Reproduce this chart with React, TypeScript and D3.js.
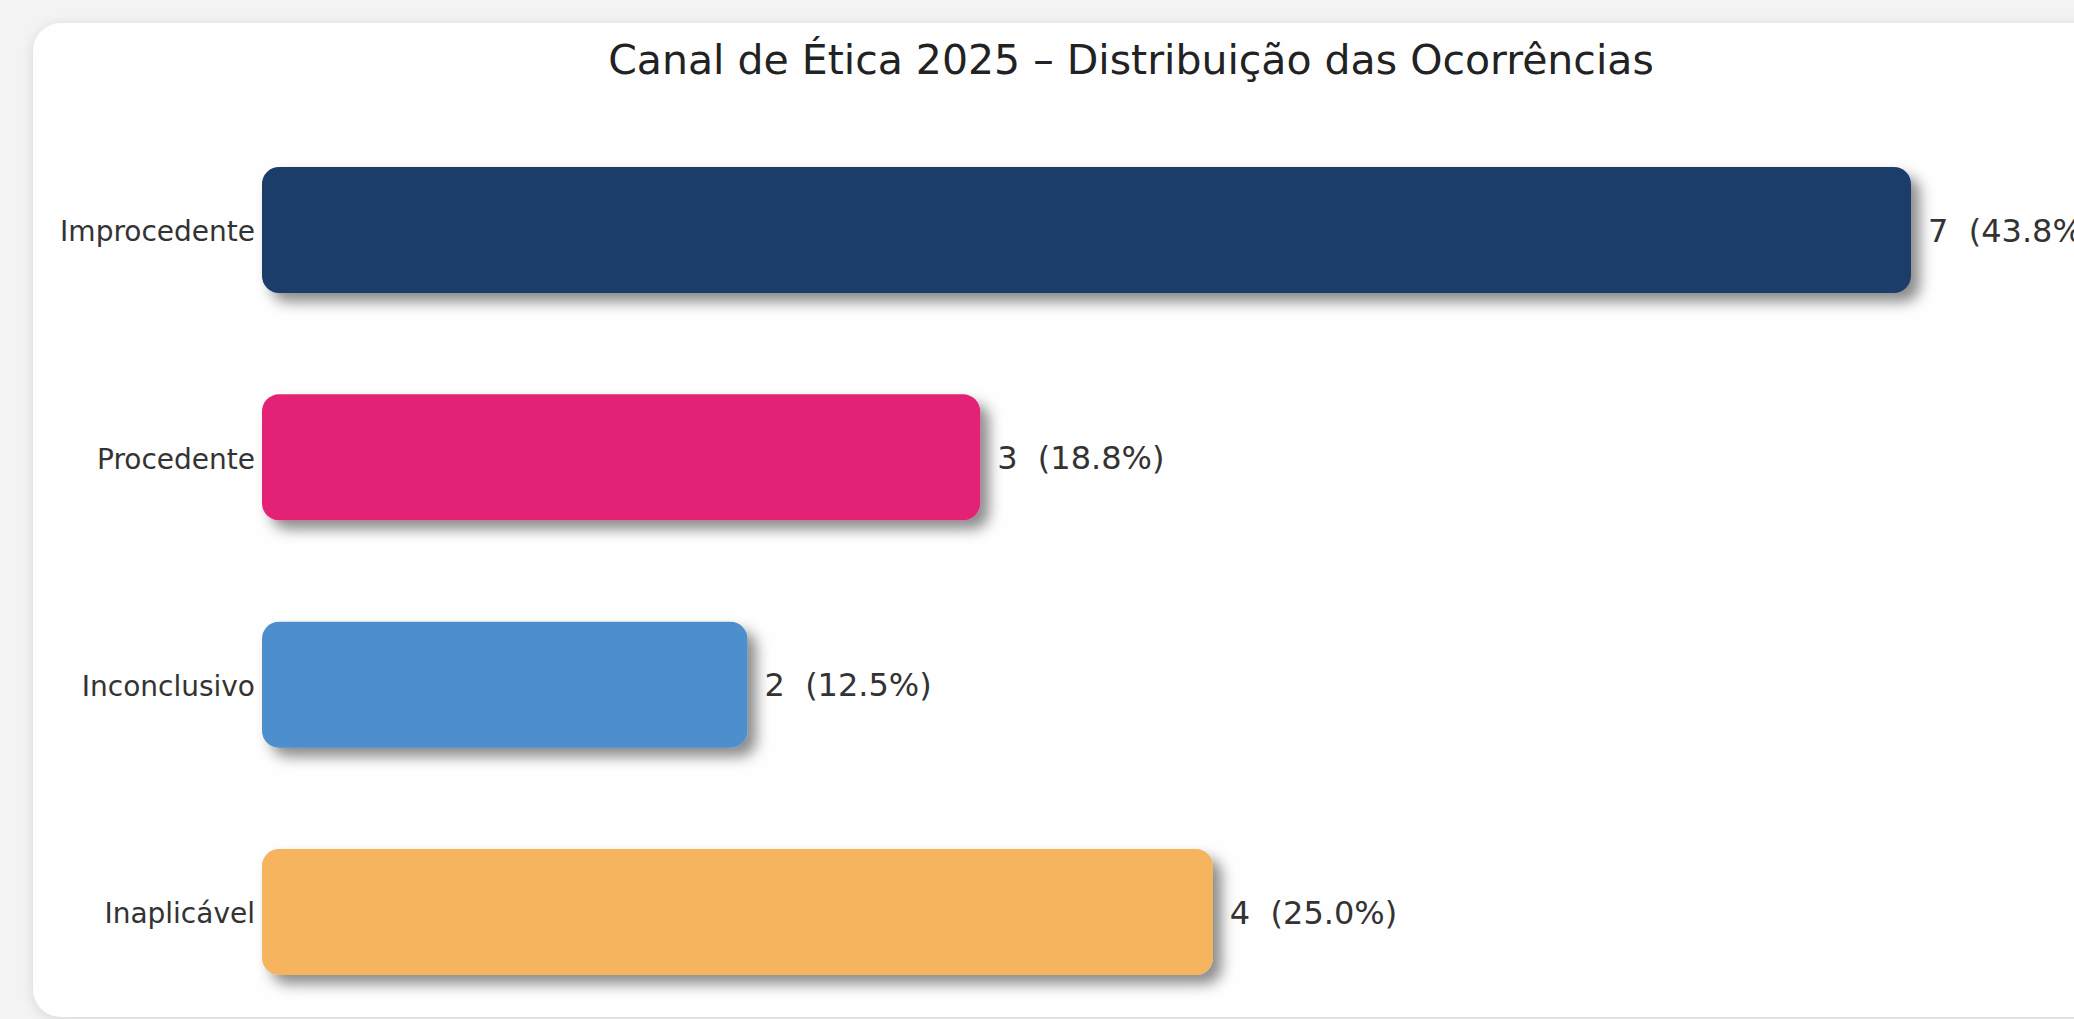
import React from "react";
import * as d3 from "d3";

const categories = ["Improcedente", "Procedente", "Inconclusivo", "Inaplicável"];
const counts = [7, 3, 2, 4];
const percents = ["43.8%", "18.8%", "12.5%", "25.0%"];
const barColors = ["#1c3d6b", "#e32175", "#4d8fcc", "#f6b45e"];
const title = "Canal de Ética 2025 – Distribuição das Ocorrências";

const W = 2074;
const H = 1019;

export default function App() {
  const x = d3.scaleLinear().domain([0, 7]).range([272, 1901]);
  const y = d3.scalePoint<string>().domain(categories).range([230, 912]);
  const pad = 10;
  const barH = 126;
  const font = "'DejaVu Sans', sans-serif";

  return (
    <svg
      width={W}
      height={H}
      style={{ position: "fixed", left: 0, top: 0, display: "block" }}
    >
      <defs>
        <filter id="cardShadow" x="-5%" y="-5%" width="110%" height="110%">
          <feDropShadow dx="0" dy="2" stdDeviation="6" floodColor="#000" floodOpacity="0.12" />
        </filter>
        <filter id="barShadow" x="-10%" y="-30%" width="120%" height="180%">
          <feDropShadow dx="9" dy="9" stdDeviation="7" floodColor="#000" floodOpacity="0.45" />
        </filter>
      </defs>
      <rect x={0} y={0} width={W} height={H} fill="#f3f3f3" />
      <rect x={33} y={23} width={2120} height={994} rx={28} fill="#fefefe" filter="url(#cardShadow)" />
      <text
        x={1131}
        y={74}
        textAnchor="middle"
        fontFamily={font}
        fontSize={41}
        fill="#222"
      >
        {title}
      </text>
      {categories.map((c, i) => {
        const cy = y(c) as number;
        return (
          <g key={c}>
            <rect
              x={x(0) - pad}
              y={cy - barH / 2}
              width={x(counts[i]) - x(0) + 2 * pad}
              height={barH}
              rx={17}
              fill={barColors[i]}
              filter="url(#barShadow)"
            />
            <text
              x={255}
              y={cy}
              dy="0.4em"
              textAnchor="end"
              fontFamily={font}
              fontSize={28}
              fill="#333"
            >
              {c}
            </text>
            <text
              x={x(counts[i]) + pad + 17}
              y={cy}
              dy="0.36em"
              textAnchor="start"
              fontFamily={font}
              fontSize={32}
              fill="#333"
              style={{ whiteSpace: "pre" }}
            >
              {`${counts[i]}  (${percents[i]})`}
            </text>
          </g>
        );
      })}
    </svg>
  );
}
